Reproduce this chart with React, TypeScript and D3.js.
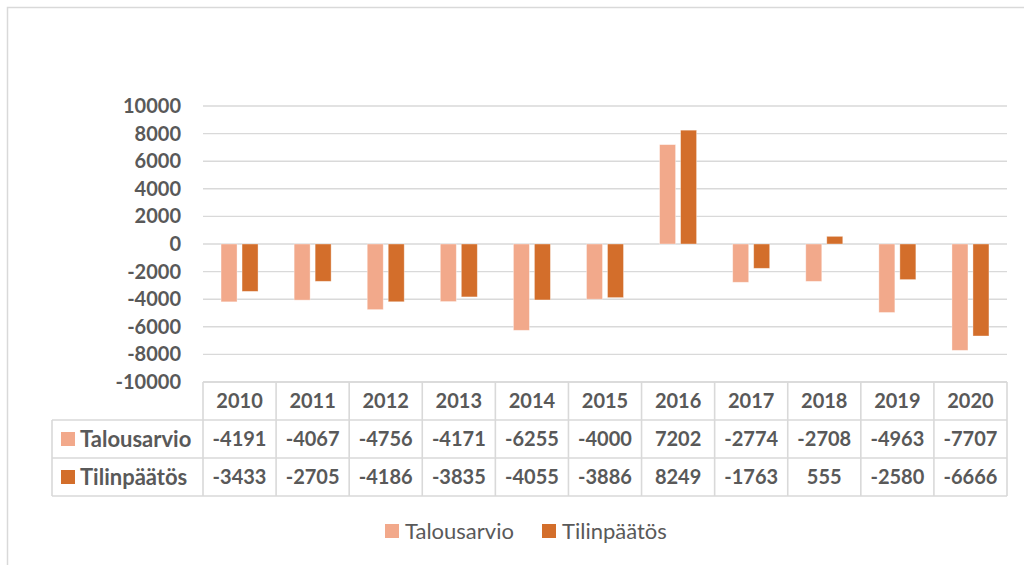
import React from "react";
import * as d3 from "d3";

const years = ["2010", "2011", "2012", "2013", "2014", "2015", "2016", "2017", "2018", "2019", "2020"];
const seriesNames = ["Talousarvio", "Tilinpäätös"];
const talousarvio = [-4191, -4067, -4756, -4171, -6255, -4000, 7202, -2774, -2708, -4963, -7707];
const tilinpaatos = [-3433, -2705, -4186, -3835, -4055, -3886, 8249, -1763, 555, -2580, -6666];
const yTicks = [-10000, -8000, -6000, -4000, -2000, 0, 2000, 4000, 6000, 8000, 10000];

const colors = ["#F2A98B", "#D36E2B"];
const textColor = "#595959";
const lineColor = "#D9D9D9";
const font = "Lato, Carlito, 'Open Sans', sans-serif";

const W = 1024;
const H = 565;

export default function App() {
  const series = [talousarvio, tilinpaatos];

  const x = d3.scaleBand<string>().domain(years).range([203, 1007]).padding(0);
  const y = d3.scaleLinear().domain([-10000, 10000]).range([382, 106]);

  // two bars per year, 16px wide with a 5px gap, centered in the band
  const inner = d3
    .scaleBand<string>()
    .domain(seriesNames)
    .range([-18.5, 18.5])
    .paddingInner(0.238)
    .paddingOuter(0);

  const tableTop = y(-10000);
  const rowH = 38;
  const rowTops = [tableTop, tableTop + rowH, tableTop + rowH * 2];
  const tableBottom = tableTop + rowH * 3;
  const labelLeft = 52;
  const plotLeft = x.range()[0];
  const plotRight = x.range()[1];

  return (
    <div style={{ position: "absolute", left: 0, top: 0 }}>
      <svg width={W} height={H} style={{ display: "block", background: "#fff" }}>
        {/* outer frame, runs off right and bottom */}
        <rect x={7.5} y={7.5} width={W + 20} height={H + 20} fill="#fff" stroke={lineColor} strokeWidth={1.5} />

        {/* gridlines */}
        {yTicks.map((t) => (
          <line
            key={"g" + t}
            x1={plotLeft}
            x2={plotRight}
            y1={y(t)}
            y2={y(t)}
            stroke={lineColor}
            strokeWidth={1.4}
          />
        ))}

        {/* y labels */}
        {yTicks.map((t) => (
          <text
            key={"yl" + t}
            x={181}
            y={y(t)}
            dy="0.35em"
            textAnchor="end"
            fontFamily={font}
            fontWeight="bold"
            fontSize={20}
            fill={textColor}
          >
            {t}
          </text>
        ))}

        {/* bars */}
        {series.map((vals, si) =>
          vals.map((v, i) => {
            const cx = (x(years[i]) as number) + x.bandwidth() / 2;
            const bx = cx + (inner(seriesNames[si]) as number);
            const y0 = y(0);
            const y1 = y(v);
            return (
              <rect
                key={si + "-" + i}
                x={bx}
                y={Math.min(y0, y1)}
                width={inner.bandwidth()}
                height={Math.abs(y1 - y0)}
                fill={colors[si]}
                stroke="#fff"
                strokeOpacity={0.45}
                strokeWidth={0.8}
              />
            );
          })
        )}

        {/* data table lines */}
        <g stroke={lineColor} strokeWidth={1.6} fill="none">
          <line x1={plotLeft} x2={plotRight} y1={rowTops[0]} y2={rowTops[0]} />
          <line x1={labelLeft} x2={plotRight} y1={rowTops[1]} y2={rowTops[1]} />
          <line x1={labelLeft} x2={plotRight} y1={rowTops[2]} y2={rowTops[2]} />
          <line x1={labelLeft} x2={plotRight} y1={tableBottom} y2={tableBottom} />
          <line x1={labelLeft} x2={labelLeft} y1={rowTops[1]} y2={tableBottom} />
          {years.map((yr) => (
            <line
              key={"v" + yr}
              x1={x(yr) as number}
              x2={x(yr) as number}
              y1={rowTops[0]}
              y2={tableBottom}
            />
          ))}
          <line x1={plotRight} x2={plotRight} y1={rowTops[0]} y2={tableBottom} />
        </g>

        {/* header row: years */}
        {years.map((yr) => (
          <text
            key={"h" + yr}
            x={(x(yr) as number) + x.bandwidth() / 2}
            y={rowTops[0] + rowH / 2}
            dy="0.35em"
            textAnchor="middle"
            fontFamily={font}
            fontWeight="bold"
            fontSize={20}
            fill={textColor}
          >
            {yr}
          </text>
        ))}

        {/* value rows */}
        {series.map((vals, si) => (
          <g key={"row" + si}>
            <rect x={61} y={rowTops[si + 1] + rowH / 2 - 7} width={14} height={14} fill={colors[si]} />
            <text
              x={80}
              y={rowTops[si + 1] + rowH / 2}
              dy="0.35em"
              fontFamily={font}
              fontWeight="bold"
              fontSize={22}
              fill={textColor}
            >
              {seriesNames[si]}
            </text>
            {vals.map((v, i) => (
              <text
                key={"c" + si + i}
                x={(x(years[i]) as number) + x.bandwidth() / 2}
                y={rowTops[si + 1] + rowH / 2}
                dy="0.35em"
                textAnchor="middle"
                fontFamily={font}
                fontWeight="bold"
                fontSize={20}
                fill={textColor}
              >
                {v}
              </text>
            ))}
          </g>
        ))}

        {/* legend */}
        {seriesNames.map((name, si) => {
          const lx = si === 0 ? 385 : 542;
          return (
            <g key={"lg" + name}>
              <rect x={lx} y={524} width={14} height={14} fill={colors[si]} />
              <text
                x={lx + 20}
                y={531}
                dy="0.35em"
                fontFamily={font}
                fontSize={22}
                fill={textColor}
              >
                {name}
              </text>
            </g>
          );
        })}
      </svg>
    </div>
  );
}
